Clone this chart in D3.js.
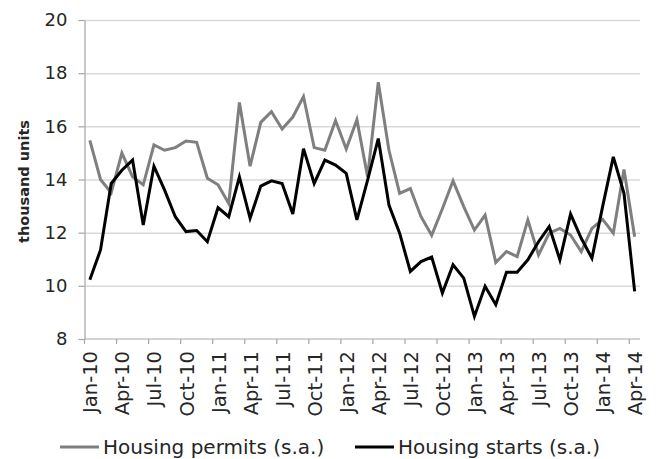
<!DOCTYPE html>
<html>
<head>
<meta charset="utf-8">
<script src="https://cdn.jsdelivr.net/npm/d3@7"></script>
<style>
body { margin: 0; background: #fff; }
text { font-family: "DejaVu Sans", Verdana, sans-serif; fill: #262626; }
</style>
</head>
<body>
<script>
var months = ["Jan-10","Feb-10","Mar-10","Apr-10","May-10","Jun-10","Jul-10","Aug-10","Sep-10","Oct-10","Nov-10","Dec-10",
	"Jan-11","Feb-11","Mar-11","Apr-11","May-11","Jun-11","Jul-11","Aug-11","Sep-11","Oct-11","Nov-11","Dec-11",
	"Jan-12","Feb-12","Mar-12","Apr-12","May-12","Jun-12","Jul-12","Aug-12","Sep-12","Oct-12","Nov-12","Dec-12",
	"Jan-13","Feb-13","Mar-13","Apr-13","May-13","Jun-13","Jul-13","Aug-13","Sep-13","Oct-13","Nov-13","Dec-13",
	"Jan-14","Feb-14","Mar-14","Apr-14"];

var xLabels = ["Jan-10","Apr-10","Jul-10","Oct-10","Jan-11","Apr-11","Jul-11","Oct-11","Jan-12",
	"Apr-12","Jul-12","Oct-12","Jan-13","Apr-13","Jul-13","Oct-13","Jan-14","Apr-14"];

var yTicks = [8, 10, 12, 14, 16, 18, 20];

var permits = [15.47, 14.0, 13.5, 15.0, 14.1, 13.8, 15.3, 15.1, 15.2, 15.45, 15.4, 14.05,
	13.8, 13.1, 16.9, 14.5, 16.15, 16.55, 15.9, 16.35, 17.12, 15.2, 15.1, 16.22,
	15.15, 16.25, 14.1, 17.66, 15.1, 13.48, 13.66, 12.6, 11.9, 12.9, 13.95, 12.98,
	12.1, 12.66, 10.88, 11.29, 11.1, 12.48, 11.16, 11.98, 12.16, 11.91, 11.29, 12.16,
	12.5, 11.98, 14.38, 11.85];

var starts = [10.23, 11.35, 13.85, 14.35, 14.73, 12.29, 14.5, 13.6, 12.6, 12.04, 12.08, 11.66,
	12.94, 12.6, 14.1, 12.54, 13.75, 13.95, 13.85, 12.7, 15.16, 13.85, 14.73, 14.54,
	14.23, 12.48, 13.98, 15.54, 13.04, 11.98, 10.54, 10.91, 11.08, 9.73, 10.79, 10.29,
	8.85, 9.98, 9.29, 10.51, 10.51, 10.98, 11.66, 12.23, 10.98, 12.7, 11.79, 11.04,
	12.98, 14.85, 13.48, 9.79];

var seriesNames = ["Housing permits (s.a.)", "Housing starts (s.a.)"];
var seriesColors = ["#7f7f7f", "#000000"];

function drawChart() {
	var width = 657;
	var height = 459;
	var pLeft = 84.5, pRight = 640, pTop = 20, pBottom = 339;

	var svg = d3.select("body").append("svg").attr("width", width).attr("height", height);
	svg.append("rect").attr("width", width).attr("height", height).attr("fill", "#fff");

	var x = d3.scalePoint().domain(months).range([pLeft, pRight]).padding(0.5);
	var y = d3.scaleLinear().domain([8, 20]).range([pBottom, pTop]);
	var step = x.step();

	// gridlines
	svg.append("g")
		.attr("transform", "translate(" + pLeft + ",0)")
		.call(d3.axisLeft(y).tickValues(yTicks.slice(1)).tickSize(-(pRight - pLeft)).tickFormat(""))
		.call(function(g) {
			g.select(".domain").remove();
			g.selectAll("line").attr("stroke", "#d9d9d9").attr("stroke-width", 1.5);
		});

	// y axis
	svg.append("g")
		.attr("transform", "translate(" + pLeft + ",0)")
		.call(d3.axisLeft(y).tickValues(yTicks).tickSize(6).tickPadding(11).tickSizeOuter(0))
		.call(function(g) {
			g.select(".domain").attr("stroke", "#a6a6a6").attr("stroke-width", 1.2);
			g.selectAll("line").attr("stroke", "#a6a6a6").attr("stroke-width", 1.2);
			g.selectAll("text").style("font-size", "18px").attr("fill", "#262626");
		});

	// x axis
	svg.append("g")
		.attr("transform", "translate(0," + pBottom + ")")
		.call(d3.axisBottom(x).tickValues(xLabels).tickSize(0).tickSizeOuter(0))
		.call(function(g) {
			g.select(".domain").attr("stroke", "#a6a6a6").attr("stroke-width", 1.2)
				.attr("d", "M" + pLeft + ",0H" + pRight);
			g.selectAll("text")
				.style("font-size", "19.5px")
				.style("text-anchor", "end")
				.attr("fill", "#262626")
				.attr("x", -12)
				.attr("y", 0)
				.attr("dy", "0.36em")
				.attr("transform", "rotate(-90)");
		});

	svg.append("g").selectAll("line")
		.data(xLabels)
		.enter().append("line")
		.attr("x1", function(d) { return x(d) - step / 2; })
		.attr("x2", function(d) { return x(d) - step / 2; })
		.attr("y1", pBottom)
		.attr("y2", pBottom + 5)
		.attr("stroke", "#a6a6a6")
		.attr("stroke-width", 1.2);

	// axis title
	svg.append("text")
		.attr("transform", "translate(29," + ((pTop + pBottom) / 2 + 2) + ") rotate(-90)")
		.style("text-anchor", "middle")
		.style("font-size", "14.5px")
		.style("font-weight", "bold")
		.text("thousand units");

	// lines
	var line = d3.line()
		.x(function(d, i) { return x(months[i]); })
		.y(function(d) { return y(d); });

	[permits, starts].forEach(function(s, k) {
		svg.append("path").datum(s)
			.attr("fill", "none")
			.attr("stroke", seriesColors[k])
			.attr("stroke-width", 3)
			.attr("stroke-linejoin", "miter")
			.attr("d", line);
	});

	// legend
	var legendX = [60, 355];
	var legend = svg.append("g").selectAll("g")
		.data(seriesNames)
		.enter().append("g")
		.attr("transform", function(d, i) { return "translate(" + legendX[i] + ",447)"; });

	legend.append("line")
		.attr("x1", 0).attr("x2", 39)
		.attr("stroke", function(d, i) { return seriesColors[i]; })
		.attr("stroke-width", 3);

	legend.append("text")
		.attr("x", 43)
		.attr("dy", "0.36em")
		.style("font-size", "20px")
		.text(function(d) { return d; });
}

drawChart();
</script>
</body>
</html>
